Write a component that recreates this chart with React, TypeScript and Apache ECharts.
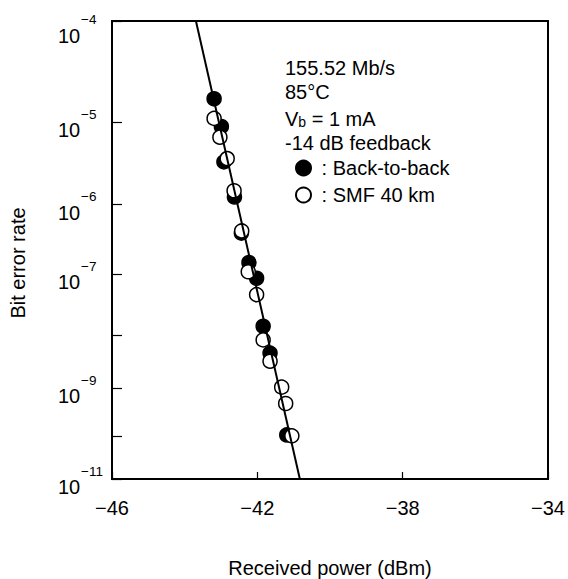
import React, { useEffect, useRef } from "react";
import * as echarts from "echarts";

// Received power (dBm) and log10(BER)
const powerBackToBack = [-43.19, -42.99, -42.92, -42.63, -42.44, -42.23, -42.02, -41.84, -41.65, -41.19];
const logBerBackToBack = [-4.75, -5.05, -5.46, -5.9, -6.39, -6.82, -7.06, -7.85, -8.33, -9.98];

const powerSMF = [-43.19, -43.03, -42.83, -42.64, -42.43, -42.25, -42.02, -41.84, -41.65, -41.33, -41.22, -41.05];
const logBerSMF = [-4.96, -5.17, -5.42, -5.82, -6.36, -6.96, -7.32, -8.09, -8.48, -8.98, -9.31, -10.0];

const fitPower = [-43.69, -40.83];
const fitLogBer = [-4, -11];

const xTickValues = [-46, -42, -38, -34];
const yTickExponents = [4, 5, 6, 7, 8, 9, 10, 11];
const yLabelExponents = [4, 5, 6, 7, 9, 11];

const infoLines = ["155.52 Mb/s", "85°C", "{n|V}{sub|b}{n| = 1 mA}", "-14 dB feedback"];
const seriesNames = ["Back-to-back", "SMF 40 km"];

const FONT = "Liberation Sans, Arial, Helvetica, sans-serif";

// BER axis: position proportional to log10(-log10(BER))
const toAxis = (logBer: number) => Math.log10(-logBer);

export default function App() {
  const ref = useRef<HTMLDivElement>(null);
  useEffect(() => {
    document.body.style.margin = "0";
    if (!ref.current) return;
    const chart = echarts.init(ref.current, null, { renderer: "svg" });
    const pairs = (xs: number[], ys: number[]) => xs.map((x, i) => [x, toAxis(ys[i])]);
    const yMin = toAxis(-4) - 1e-9;
    const yMax = toAxis(-11) + 1e-9;
    const tok = { fontFamily: FONT, color: "#000", align: "left" };
    chart.setOption({
      animation: false,
      textStyle: { fontFamily: FONT },
      grid: {
        left: 112,
        top: 21,
        right: 20,
        bottom: 100,
        outerBoundsMode: "none",
        containLabel: false,
        show: true,
        borderColor: "#000",
        borderWidth: 2,
        backgroundColor: "transparent",
      },
      xAxis: {
        type: "value",
        min: -46,
        max: -34,
        splitLine: { show: false },
        axisLine: { lineStyle: { color: "#000", width: 2 } },
        axisTick: {
          inside: true,
          length: 7,
          customValues: xTickValues,
          lineStyle: { color: "#000", width: 1.2 },
        },
        axisLabel: {
          customValues: xTickValues,
          margin: 19,
          fontSize: 20,
          color: "#000",
          fontFamily: FONT,
          formatter: (v: number) => (v < 0 ? "\u2212" + Math.abs(v) : String(v)),
        },
      },
      yAxis: {
        type: "value",
        inverse: true,
        min: yMin,
        max: yMax,
        splitLine: { show: false },
        axisLine: { lineStyle: { color: "#000", width: 2 } },
        axisTick: {
          inside: true,
          length: 10,
          customValues: yTickExponents.map((k) => toAxis(-k)),
          lineStyle: { color: "#000", width: 1.2 },
        },
        axisLabel: {
          customValues: yLabelExponents.map((k) => toAxis(-k)),
          margin: 6,
          color: "#000",
          fontFamily: FONT,
          formatter: (v: number) => {
            const k = Math.round(Math.pow(10, v));
            const body = "{sp| }{s|\u2212" + k + "}\n{b|10}{sp2| }";
            return k === 4 ? "{e| }\n" + body : body;
          },
          rich: {
            e: { ...tok, fontSize: 10, lineHeight: 13 },
            sp: { ...tok, fontSize: 13, lineHeight: 16, width: 23 },
            s: { ...tok, fontSize: 13.5, lineHeight: 16, width: 25 },
            b: { ...tok, fontSize: 20, lineHeight: 16, width: 23 },
            sp2: { ...tok, fontSize: 13, lineHeight: 16, width: 25 },
          },
        },
      },
      legend: {
        orient: "vertical",
        left: 295,
        top: 158,
        padding: 0,
        itemGap: 7,
        itemWidth: 15,
        itemHeight: 15,
        data: seriesNames,
        formatter: (name: string) => " : " + name,
        textStyle: { fontSize: 20, lineHeight: 20, color: "#000", fontFamily: FONT, padding: [0, 0, 0, 0] },
      },
      graphic: [
        ...infoLines.map((t, i) => ({
          type: "text",
          left: 285,
          top: [58, 82, 108, 133][i],
          style: {
            text: t,
            fontSize: 20,
            fontFamily: FONT,
            fill: "#000",
            rich: {
              n: { fontSize: 20, lineHeight: 21, fontFamily: FONT, fill: "#000", color: "#000" },
              sub: { fontSize: 14, lineHeight: 14, padding: [7, 0, 0, 0], fontFamily: FONT, color: "#000" },
            },
          },
        })),
        {
          type: "text",
          x: 18,
          y: 263,
          rotation: Math.PI / 2,
          style: {
            text: "Bit error rate",
            fontSize: 20,
            fontFamily: FONT,
            fill: "#000",
            align: "center",
            verticalAlign: "middle",
          },
        },
        {
          type: "text",
          x: 330,
          y: 568,
          style: {
            text: "Received power (dBm)",
            fontSize: 20,
            fontFamily: FONT,
            fill: "#000",
            align: "center",
            verticalAlign: "middle",
          },
        },
      ],
      series: [
        {
          type: "line",
          data: pairs(fitPower, fitLogBer),
          showSymbol: false,
          symbol: "none",
          lineStyle: { color: "#000", width: 2 },
          silent: true,
        },
        {
          name: seriesNames[0],
          type: "scatter",
          data: pairs(powerBackToBack, logBerBackToBack),
          symbol: "circle",
          symbolSize: 14,
          itemStyle: { color: "#000", borderColor: "#000", borderWidth: 1.5, opacity: 1 },
        },
        {
          name: seriesNames[1],
          type: "scatter",
          data: pairs(powerSMF, logBerSMF),
          symbol: "circle",
          symbolSize: 14,
          itemStyle: { color: "#fff", borderColor: "#000", borderWidth: 1.5, opacity: 1 },
        },
      ],
    });
    return () => chart.dispose();
  }, []);
  return <div ref={ref} style={{ width: 568, height: 579 }} />;
}
